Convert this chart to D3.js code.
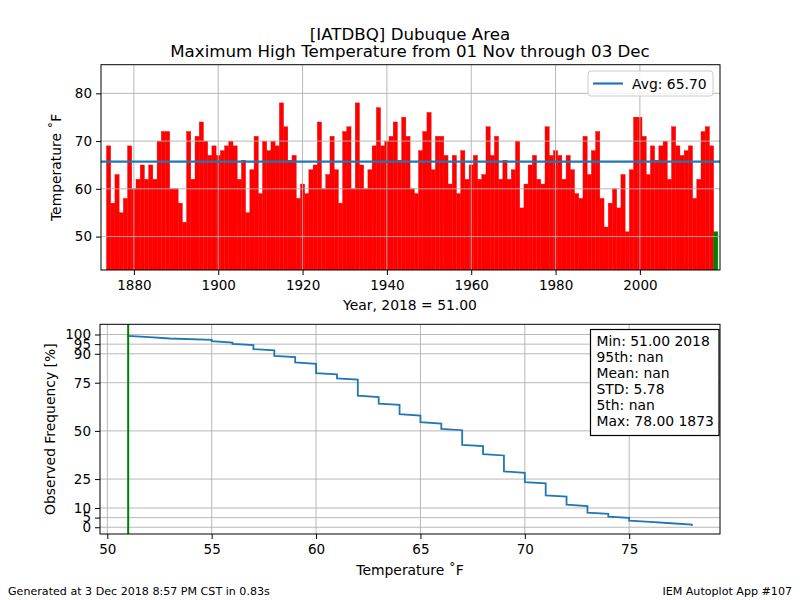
<!DOCTYPE html>
<html>
<head>
<meta charset="utf-8">
<script src="https://cdn.jsdelivr.net/npm/d3@7"></script>
<style>
body { margin: 0; background: #fff; }
svg text { font-family: "DejaVu Sans", sans-serif; fill: #000; }
</style>
</head>
<body>
<svg id="chart" width="800" height="600"></svg>
<script>
// years 1874..2018, one max high per year
var firstYear = 1874;
var highs = [
  69, 57, 63, 55, 58, 69, 60, 62, 65, 62, 65, 62, 70, 72, 72, 60, 60, 57, 53, 72,
  62, 71, 74, 70, 67, 69, 67, 68, 69, 70, 69, 62, 66, 55, 64, 71, 59, 70, 68, 70,
  69, 78, 73, 66, 67, 58, 61, 59, 64, 65,
  74, 60, 63, 71, 64, 57, 72, 73, 60, 78, 65, 60, 64, 69, 77, 69, 70, 71, 74, 66,
  75, 71, 60, 59, 68, 72, 76, 64, 71, 71, 67, 61, 67, 59, 68, 62, 65, 67, 62, 63,
  73, 67, 71, 62, 66, 62, 64, 70,
  56, 61, 65, 67, 62, 61, 73, 67, 68, 67, 62, 67, 64, 59, 58, 71, 63, 68, 72, 58,
  52, 57, 60, 56, 63, 51, 64, 75, 75, 71, 63, 69, 66, 69, 70, 62, 73, 69, 67, 68,
  69, 58, 62, 72, 73, 69, 51
];
var years = d3.range(firstYear, firstYear + highs.length);
var thisYear = 2018;

var yearTicks = [1880, 1900, 1920, 1940, 1960, 1980, 2000];
var tempTicks = [50, 60, 70, 80];
var tempTicks2 = [50, 55, 60, 65, 70, 75];
var freqTicks = [0, 5, 10, 25, 50, 75, 90, 95, 100];

var statLines = ["Min: 51.00 2018", "95th: nan", "Mean: nan", "STD: 5.78", "5th: nan", "Max: 78.00 1873"];
var titleLines = ["[IATDBQ] Dubuque Area", "Maximum High Temperature from 01 Nov through 03 Dec"];

var svg = d3.select('#chart');
var GRID = '#b0b0b0';
var BLUE = '#1f77b4';

// layout of the two panels
var top1 = {left: 101, right: 720, top: 64.7, bottom: 270};
var bot1 = {left: 100, right: 720, top: 324.3, bottom: 534};

// ---------- title ----------
svg.selectAll('.title').data(titleLines).enter().append('text')
  .attr('x', 410).attr('y', (d, i) => 39.5 + i * 17.5)
  .attr('text-anchor', 'middle').style('font-size', '16.67px').text(d => d);

// ---------- top panel: bars by year ----------
var x = d3.scaleLinear().domain([1872.2, 2019]).range([top1.left, top1.right]);
var y = d3.scaleLinear().domain([43, 86]).range([top1.bottom, top1.top]);

svg.append('clipPath').attr('id', 'clipTop').append('rect')
  .attr('x', top1.left).attr('y', top1.top)
  .attr('width', top1.right - top1.left).attr('height', top1.bottom - top1.top);

var gTop = svg.append('g').attr('clip-path', 'url(#clipTop)');

gTop.selectAll('rect.bar').data(highs).enter().append('rect')
  .attr('class', 'bar')
  .attr('x', (d, i) => x(years[i] - 0.5))
  .attr('width', (d, i) => x(years[i] + 0.5) - x(years[i] - 0.5))
  .attr('y', d => y(d))
  .attr('height', d => top1.bottom - y(d))
  .attr('fill', (d, i) => years[i] === thisYear ? 'green' : 'red')
  .attr('stroke', (d, i) => years[i] === thisYear ? 'green' : 'red')
  .attr('stroke-width', 0.4);

// grid sits on top of the bars in the original
gTop.selectAll('line.vg').data(yearTicks).enter().append('line')
  .attr('x1', d => x(d)).attr('x2', d => x(d))
  .attr('y1', top1.top).attr('y2', top1.bottom)
  .attr('stroke', GRID).attr('stroke-width', 0.9);
gTop.selectAll('line.hg').data(tempTicks).enter().append('line')
  .attr('y1', d => y(d)).attr('y2', d => y(d))
  .attr('x1', top1.left).attr('x2', top1.right)
  .attr('stroke', GRID).attr('stroke-width', 0.9);

var avg = d3.mean(highs);
gTop.append('line')
  .attr('x1', top1.left).attr('x2', top1.right)
  .attr('y1', y(avg)).attr('y2', y(avg))
  .attr('stroke', BLUE).attr('stroke-width', 2.2);

svg.append('g').attr('transform', 'translate(0,' + top1.bottom + ')')
  .call(d3.axisBottom(x).tickValues(yearTicks).tickFormat(d3.format('d')).tickSize(5).tickPadding(5))
  .call(g => g.select('.domain').remove());
svg.append('g').attr('transform', 'translate(' + top1.left + ',0)')
  .call(d3.axisLeft(y).tickValues(tempTicks).tickSize(5).tickPadding(4))
  .call(g => g.select('.domain').remove());

svg.append('rect')
  .attr('x', top1.left).attr('y', top1.top)
  .attr('width', top1.right - top1.left).attr('height', top1.bottom - top1.top)
  .attr('fill', 'none').attr('stroke', '#000').attr('stroke-width', 1);

// legend
var leg = svg.append('g').attr('transform', 'translate(588,71)');
leg.append('rect').attr('width', 125).attr('height', 25).attr('rx', 3)
  .attr('fill', '#fff').attr('fill-opacity', 0.8).attr('stroke', '#cccccc');
leg.append('line').attr('x1', 5).attr('x2', 35).attr('y1', 12.5).attr('y2', 12.5)
  .attr('stroke', BLUE).attr('stroke-width', 2.2);
leg.append('text').attr('x', 44).attr('y', 17.5).style('font-size', '13.9px')
  .text('Avg: ' + avg.toFixed(2));

svg.append('text').attr('x', 410).attr('y', 310).attr('text-anchor', 'middle')
  .style('font-size', '13.9px')
  .text('Year, ' + thisYear + ' = ' + highs[highs.length - 1].toFixed(2));
svg.append('text')
  .attr('transform', 'translate(61,' + ((top1.top + top1.bottom) / 2) + ') rotate(-90)')
  .attr('text-anchor', 'middle').style('font-size', '13.9px')
  .text('Temperature \u02daF');

// ---------- bottom panel: exceedance frequency ----------
var sorted = highs.slice().sort(d3.ascending);
var n = sorted.length;
var freq = sorted.map((v, i) => ({t: v, p: 100 * (n - i) / n}));

var x2 = d3.scaleLinear().domain([49.65, 79.35]).range([bot1.left, bot1.right]);
var y2 = d3.scaleLinear().domain([-3.5, 105.3]).range([bot1.bottom, bot1.top]);

svg.append('g').selectAll('line').data(tempTicks2).enter().append('line')
  .attr('x1', d => x2(d)).attr('x2', d => x2(d))
  .attr('y1', bot1.top).attr('y2', bot1.bottom)
  .attr('stroke', GRID).attr('stroke-width', 0.9);
svg.append('g').selectAll('line').data(freqTicks).enter().append('line')
  .attr('y1', d => y2(d)).attr('y2', d => y2(d))
  .attr('x1', bot1.left).attr('x2', bot1.right)
  .attr('stroke', GRID).attr('stroke-width', 0.9);

svg.append('path').datum(freq)
  .attr('d', d3.line().x(d => x2(d.t)).y(d => y2(d.p)))
  .attr('fill', 'none').attr('stroke', BLUE).attr('stroke-width', 1.8);

svg.append('line')
  .attr('x1', x2(highs[highs.length - 1])).attr('x2', x2(highs[highs.length - 1]))
  .attr('y1', bot1.top).attr('y2', bot1.bottom)
  .attr('stroke', 'green').attr('stroke-width', 2);

svg.append('g').attr('transform', 'translate(0,' + bot1.bottom + ')')
  .call(d3.axisBottom(x2).tickValues(tempTicks2).tickSize(5).tickPadding(5))
  .call(g => g.select('.domain').remove());
svg.append('g').attr('transform', 'translate(' + bot1.left + ',0)')
  .call(d3.axisLeft(y2).tickValues(freqTicks).tickSize(5).tickPadding(4))
  .call(g => g.select('.domain').remove());

svg.append('rect')
  .attr('x', bot1.left).attr('y', bot1.top)
  .attr('width', bot1.right - bot1.left).attr('height', bot1.bottom - bot1.top)
  .attr('fill', 'none').attr('stroke', '#000').attr('stroke-width', 1);

// stats box
var sb = svg.append('g').attr('transform', 'translate(590.5,329.5)');
sb.append('rect').attr('width', 128.5).attr('height', 106)
  .attr('fill', '#fff').attr('stroke', '#000').attr('stroke-width', 1.2);
sb.selectAll('text').data(statLines).enter().append('text')
  .attr('x', 6).attr('y', (d, i) => 16.5 + i * 16)
  .style('font-size', '13.9px').text(d => d);

svg.append('text').attr('x', 410).attr('y', 575).attr('text-anchor', 'middle')
  .style('font-size', '13.9px').text('Temperature \u02daF');
svg.append('text')
  .attr('transform', 'translate(55,' + ((bot1.top + bot1.bottom) / 2) + ') rotate(-90)')
  .attr('text-anchor', 'middle').style('font-size', '13.9px')
  .text('Observed Frequency [%]');

// axis text sizes
svg.selectAll('.tick text').style('font-size', '13.5px').style('font-family', '"DejaVu Sans", sans-serif');
svg.selectAll('.tick line').attr('stroke', '#000');

// footer
svg.append('text').attr('x', 8).attr('y', 595)
  .style('font-size', '11.1px').text('Generated at 3 Dec 2018 8:57 PM CST in 0.83s');
svg.append('text').attr('x', 792).attr('y', 595)
  .attr('text-anchor', 'end').style('font-size', '11.1px').text('IEM Autoplot App #107');
</script>
</body>
</html>
